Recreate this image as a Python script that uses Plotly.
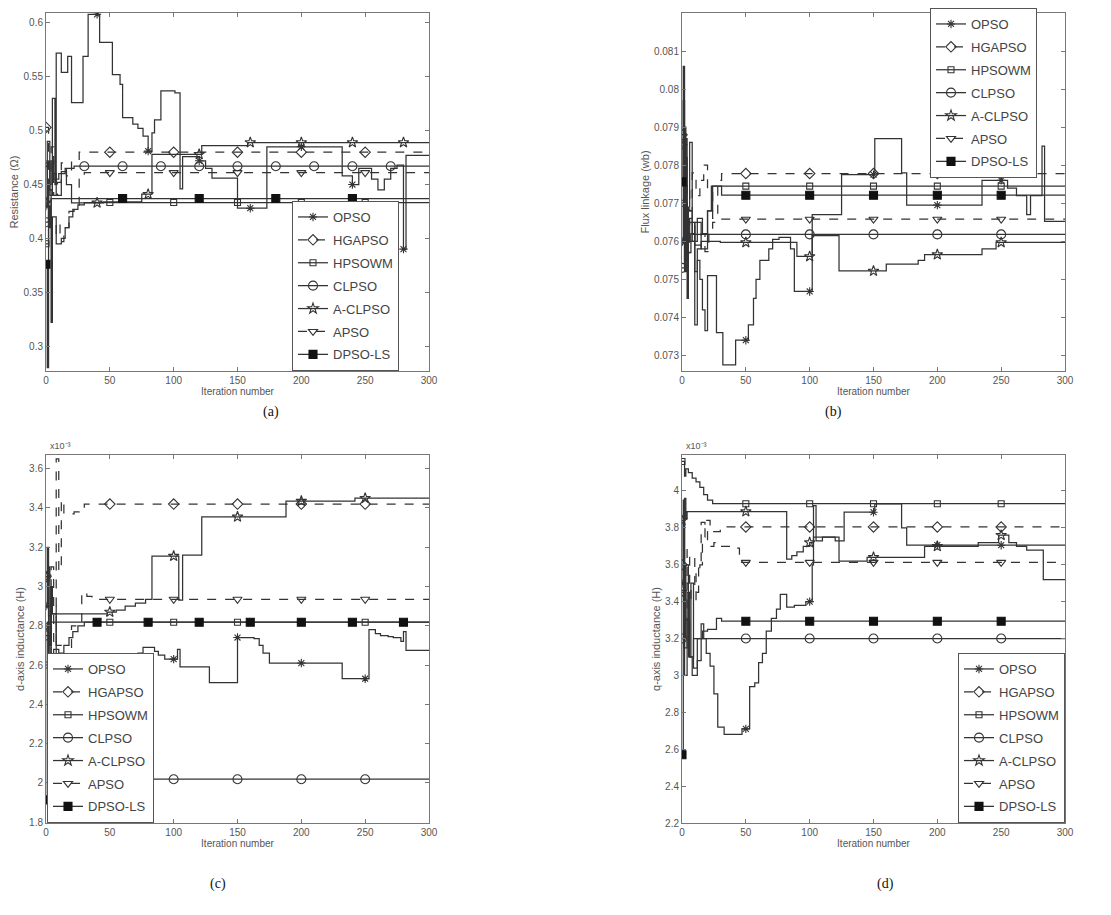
import plotly.graph_objects as go

# ---------------- data ----------------
ALGOS = ["OPSO", "HGAPSO", "HPSOWM", "CLPSO", "A-CLPSO", "APSO", "DPSO-LS"]
X_TICKS = [0, 50, 100, 150, 200, 250, 300]

# ---- panel (a): Resistance (ohm) ----
A_OPSO_IT = [0, 1, 3, 5, 7, 8, 12, 17, 20, 29, 33, 42, 52, 58, 60, 68, 72, 76, 80, 83, 85, 90, 101, 105, 107, 120, 125, 130, 150, 173, 232, 240, 245, 255, 260, 265, 270, 275, 280, 282, 300]
A_OPSO_V = [0.430, 0.470, 0.440, 0.530, 0.450, 0.572, 0.554, 0.569, 0.526, 0.569, 0.608, 0.582, 0.552, 0.543, 0.512, 0.506, 0.502, 0.495, 0.481, 0.498, 0.510, 0.537, 0.535, 0.446, 0.476, 0.472, 0.465, 0.456, 0.428, 0.485, 0.458, 0.450, 0.465, 0.455, 0.445, 0.455, 0.465, 0.468, 0.390, 0.477, 0.477]
A_HGAPSO_IT = [0, 2, 4, 6, 9, 12, 16, 20, 26, 300]
A_HGAPSO_V = [0.503, 0.460, 0.485, 0.440, 0.452, 0.470, 0.458, 0.472, 0.480, 0.480]
A_HPSOWM_IT = [0, 2, 4, 5, 8, 12, 15, 18, 21, 25, 30, 300]
A_HPSOWM_V = [0.395, 0.445, 0.322, 0.420, 0.395, 0.400, 0.410, 0.420, 0.427, 0.431, 0.4333, 0.4333]
A_CLPSO_IT = [0, 2, 4, 6, 10, 15, 22, 300]
A_CLPSO_V = [0.415, 0.450, 0.472, 0.455, 0.460, 0.465, 0.467, 0.467]
A_ACLPSO_IT = [0, 1, 3, 5, 8, 12, 16, 20, 45, 75, 83, 122, 158, 300]
A_ACLPSO_V = [0.433, 0.490, 0.445, 0.460, 0.440, 0.462, 0.450, 0.433, 0.434, 0.441, 0.478, 0.486, 0.489, 0.489]
A_APSO_IT = [0, 2, 5, 8, 11, 14, 18, 22, 26, 30, 300]
A_APSO_V = [0.470, 0.412, 0.400, 0.415, 0.397, 0.410, 0.425, 0.430, 0.455, 0.461, 0.461]
A_DPSO_IT = [0, 1, 2, 3, 4, 300]
A_DPSO_V = [0.376, 0.280, 0.430, 0.410, 0.437, 0.437]
A_YTICKS = [0.3, 0.35, 0.4, 0.45, 0.5, 0.55, 0.6]
A_YLABELS = ["0.3", "0.35", "0.4", "0.45", "0.5", "0.55", "0.6"]

# ---- panel (b): Flux linkage (wb) ----
B_OPSO_IT = [0, 1, 2, 3, 4, 5, 6, 8, 10, 12, 14, 16, 18, 20, 27, 32, 42, 52, 56, 58, 61, 68, 71, 76, 85, 88, 102, 125, 151, 172, 176, 235, 255, 262, 270, 273, 282, 284, 300]
B_OPSO_V = [0.0760, 0.0806, 0.0752, 0.0782, 0.0745, 0.0769, 0.0786, 0.0765, 0.0738, 0.0755, 0.0750, 0.0742, 0.07365, 0.0751, 0.0736, 0.07275, 0.0734, 0.0738, 0.0745, 0.0750, 0.0755, 0.0758, 0.07605, 0.0761, 0.0758, 0.07468, 0.0767, 0.07775, 0.0787, 0.0778, 0.07695, 0.0776, 0.0774, 0.0772, 0.0767, 0.0772, 0.0785, 0.07652, 0.07652]
B_HGAPSO_IT = [0, 2, 4, 6, 8, 11, 14, 17, 20, 24, 28, 31, 300]
B_HGAPSO_V = [0.0788, 0.0762, 0.0775, 0.0768, 0.0778, 0.0772, 0.0776, 0.0780, 0.0773, 0.0766, 0.0776, 0.07778, 0.07778]
B_HPSOWM_IT = [0, 3, 5, 8, 12, 16, 20, 23, 300]
B_HPSOWM_V = [0.0770, 0.0758, 0.0768, 0.0760, 0.0766, 0.0762, 0.0768, 0.07745, 0.07745]
B_CLPSO_IT = [0, 2, 4, 6, 8, 300]
B_CLPSO_V = [0.0753, 0.0770, 0.0760, 0.0765, 0.07618, 0.07618]
B_ACLPSO_IT = [0, 1, 2, 3, 5, 7, 10, 12, 15, 30, 90, 102, 123, 160, 185, 190, 235, 246, 300]
B_ACLPSO_V = [0.0785, 0.0775, 0.0790, 0.0768, 0.0757, 0.0762, 0.0752, 0.0758, 0.0760, 0.07597, 0.0756, 0.07615, 0.07522, 0.0754, 0.0755, 0.07565, 0.0758, 0.07597, 0.07597]
B_APSO_IT = [0, 2, 4, 6, 10, 15, 18, 21, 24, 28, 300]
B_APSO_V = [0.0760, 0.0768, 0.0757, 0.0766, 0.0759, 0.0762, 0.07573, 0.0762, 0.0765, 0.07658, 0.07658]
B_DPSO_IT = [0, 1, 2, 3, 4, 6, 10, 15, 20, 24, 31, 300]
B_DPSO_V = [0.07756, 0.0797, 0.0755, 0.0787, 0.0762, 0.0760, 0.0765, 0.0758, 0.0768, 0.07745, 0.07721, 0.07721]
B_YTICKS = [0.073, 0.074, 0.075, 0.076, 0.077, 0.078, 0.079, 0.080, 0.081, 0.082]
B_YLABELS = ["0.073", "0.074", "0.075", "0.076", "0.077", "0.078", "0.079", "0.08", "0.081", "0.082"]

# ---- panel (c): d-axis inductance (x1e-3 H) ----
C_OPSO_IT = [0, 1, 2, 4, 8, 20, 40, 60, 72, 76, 85, 88, 93, 103, 105, 128, 150, 163, 167, 170, 175, 232, 253, 258, 262, 268, 272, 278, 280, 282, 300]
C_OPSO_V = [2.90, 3.20, 2.70, 2.86, 2.65, 2.55, 2.60, 2.64, 2.66, 2.69, 2.67, 2.65, 2.63, 2.68, 2.59, 2.51, 2.74, 2.735, 2.70, 2.66, 2.61, 2.53, 2.78, 2.76, 2.75, 2.745, 2.74, 2.72, 2.77, 2.675, 2.675]
C_HGAPSO_IT = [0, 2, 4, 6, 8, 10, 12, 14, 22, 26, 30, 300]
C_HGAPSO_V = [3.05, 2.85, 3.10, 2.70, 3.65, 3.08, 3.44, 3.37, 3.38, 3.39, 3.42, 3.42]
C_HPSOWM_IT = [0, 2, 4, 6, 10, 14, 18, 21, 25, 30, 300]
C_HPSOWM_V = [2.60, 2.80, 2.55, 2.68, 2.66, 2.70, 2.74, 2.77, 2.80, 2.818, 2.818]
C_CLPSO_IT = [0, 3, 6, 10, 15, 22, 300]
C_CLPSO_V = [2.75, 2.50, 2.20, 2.10, 2.05, 2.018, 2.018]
C_ACLPSO_IT = [0, 2, 3, 4, 5, 48, 55, 62, 70, 78, 83, 104, 107, 122, 188, 242, 300]
C_ACLPSO_V = [3.05, 3.10, 2.70, 3.00, 2.86, 2.87, 2.88, 2.90, 2.915, 2.935, 3.155, 2.93, 3.16, 3.355, 3.435, 3.45, 3.45]
C_APSO_IT = [0, 2, 4, 8, 12, 20, 28, 32, 36, 300]
C_APSO_V = [2.80, 2.60, 2.90, 2.70, 2.65, 2.80, 2.97, 2.95, 2.935, 2.935]
C_DPSO_IT = [0, 1, 300]
C_DPSO_V = [1.913, 2.818, 2.818]
C_YTICKS = [1.8, 2.0, 2.2, 2.4, 2.6, 2.8, 3.0, 3.2, 3.4, 3.6]
C_YLABELS = ["1.8", "2", "2.2", "2.4", "2.6", "2.8", "3", "3.2", "3.4", "3.6"]

# ---- panel (d): q-axis inductance (x1e-3 H) ----
D_OPSO_IT = [0, 1, 2, 3, 5, 7, 9, 12, 15, 17, 19, 22, 25, 28, 33, 47, 53, 57, 60, 63, 66, 70, 74, 77, 82, 88, 97, 102, 103, 105, 110, 120, 127, 151, 172, 176, 300]
D_OPSO_V = [3.50, 3.95, 3.20, 3.60, 3.10, 3.50, 3.04, 3.08, 3.28, 3.20, 3.12, 3.05, 2.90, 2.72, 2.68, 2.71, 2.94, 2.96, 3.07, 3.12, 3.24, 3.31, 3.36, 3.44, 3.37, 3.38, 3.40, 3.60, 3.92, 3.73, 3.75, 3.73, 3.885, 3.93, 3.80, 3.706, 3.706]
D_HGAPSO_IT = [0, 2, 4, 7, 11, 14, 16, 18, 22, 30, 34, 300]
D_HGAPSO_V = [3.60, 3.30, 3.50, 3.40, 3.55, 3.60, 3.75, 3.84, 3.78, 3.79, 3.805, 3.805]
D_HPSOWM_IT = [0, 2, 3, 5, 8, 11, 14, 17, 20, 24, 300]
D_HPSOWM_V = [4.16, 4.08, 4.12, 4.10, 4.07, 4.05, 4.02, 3.98, 3.95, 3.931, 3.931]
D_CLPSO_IT = [0, 2, 4, 6, 9, 300]
D_CLPSO_V = [3.20, 3.00, 3.30, 3.10, 3.20, 3.20]
D_ACLPSO_IT = [0, 1, 2, 3, 4, 82, 86, 90, 95, 100, 103, 123, 145, 190, 232, 248, 256, 262, 270, 283, 300]
D_ACLPSO_V = [3.84, 3.50, 3.96, 3.85, 3.888, 3.63, 3.65, 3.67, 3.70, 3.72, 3.75, 3.62, 3.64, 3.70, 3.72, 3.76, 3.72, 3.70, 3.68, 3.52, 3.52]
D_APSO_IT = [0, 2, 4, 6, 10, 13, 15, 18, 20, 25, 30, 40, 45, 300]
D_APSO_V = [3.45, 3.70, 3.50, 3.65, 3.45, 3.60, 3.83, 3.78, 3.70, 3.72, 3.70, 3.69, 3.613, 3.613]
D_DPSO_IT = [0, 1, 2, 4, 6, 8, 12, 16, 20, 27, 31, 300]
D_DPSO_V = [2.57, 3.50, 3.15, 3.45, 3.10, 3.00, 3.20, 3.24, 3.25, 3.31, 3.294, 3.294]
D_YTICKS = [2.2, 2.4, 2.6, 2.8, 3.0, 3.2, 3.4, 3.6, 3.8, 4.0]
D_YLABELS = ["2.2", "2.4", "2.6", "2.8", "3", "3.2", "3.4", "3.6", "3.8", "4"]

# iterations at which markers are drawn
MARK_50 = [0, 50, 100, 150, 200, 250]
MARK_40 = [0, 40, 80, 120, 160, 200, 240, 280]
MARK_30 = [0, 30, 60, 90, 120, 150, 180, 210, 240, 270]
MARK_60 = [0, 60, 120, 180, 240]

# ---------------- styles ----------------
W, H = 1111, 915
LINE_C = "#333333"
LW = 1.25
FONT = "Liberation Sans Narrow, Arial Narrow, Liberation Sans, Arial, sans-serif"
TXT_C = "#555555"

STYLE = {
    "OPSO": dict(symbol="asterisk-open", dash="solid", size=7),
    "HGAPSO": dict(symbol="diamond-open", dash="dash", size=8),
    "HPSOWM": dict(symbol="square-open", dash="solid", size=6),
    "CLPSO": dict(symbol="circle-open", dash="solid", size=9),
    "A-CLPSO": dict(symbol="star-open", dash="solid", size=8),
    "APSO": dict(symbol="triangle-down-open", dash="dash", size=8),
    "DPSO-LS": dict(symbol="square", dash="solid", size=8),
}


def px_x(p):
    return p / W


def px_y(p):
    return 1 - p / H


def step_val(its, vals, x):
    v = vals[0]
    for t, val in zip(its, vals):
        if t <= x:
            v = val
        else:
            break
    return v


PANELS = [
    dict(ax="", legend="legend", series=[
        ("OPSO", A_OPSO_IT, A_OPSO_V, MARK_40), ("HGAPSO", A_HGAPSO_IT, A_HGAPSO_V, MARK_50),
        ("HPSOWM", A_HPSOWM_IT, A_HPSOWM_V, MARK_50), ("CLPSO", A_CLPSO_IT, A_CLPSO_V, MARK_30),
        ("A-CLPSO", A_ACLPSO_IT, A_ACLPSO_V, MARK_40), ("APSO", A_APSO_IT, A_APSO_V, MARK_50),
        ("DPSO-LS", A_DPSO_IT, A_DPSO_V, MARK_60)]),
    dict(ax="2", legend="legend2", series=[
        ("OPSO", B_OPSO_IT, B_OPSO_V, MARK_50), ("HGAPSO", B_HGAPSO_IT, B_HGAPSO_V, MARK_50),
        ("HPSOWM", B_HPSOWM_IT, B_HPSOWM_V, MARK_50), ("CLPSO", B_CLPSO_IT, B_CLPSO_V, MARK_50),
        ("A-CLPSO", B_ACLPSO_IT, B_ACLPSO_V, MARK_50), ("APSO", B_APSO_IT, B_APSO_V, MARK_50),
        ("DPSO-LS", B_DPSO_IT, B_DPSO_V, MARK_50)]),
    dict(ax="3", legend="legend3", series=[
        ("OPSO", C_OPSO_IT, C_OPSO_V, MARK_50), ("HGAPSO", C_HGAPSO_IT, C_HGAPSO_V, MARK_50),
        ("HPSOWM", C_HPSOWM_IT, C_HPSOWM_V, MARK_50), ("CLPSO", C_CLPSO_IT, C_CLPSO_V, MARK_50),
        ("A-CLPSO", C_ACLPSO_IT, C_ACLPSO_V, MARK_50), ("APSO", C_APSO_IT, C_APSO_V, MARK_50),
        ("DPSO-LS", C_DPSO_IT, C_DPSO_V, MARK_40)]),
    dict(ax="4", legend="legend4", series=[
        ("OPSO", D_OPSO_IT, D_OPSO_V, MARK_50), ("HGAPSO", D_HGAPSO_IT, D_HGAPSO_V, MARK_50),
        ("HPSOWM", D_HPSOWM_IT, D_HPSOWM_V, MARK_50), ("CLPSO", D_CLPSO_IT, D_CLPSO_V, MARK_50),
        ("A-CLPSO", D_ACLPSO_IT, D_ACLPSO_V, MARK_50), ("APSO", D_APSO_IT, D_APSO_V, MARK_50),
        ("DPSO-LS", D_DPSO_IT, D_DPSO_V, MARK_50)]),
]

fig = go.Figure()

for p in PANELS:
    xa, ya = "x" + p["ax"], "y" + p["ax"]
    for name, its, vals, marks in p["series"]:
        st = STYLE[name]
        grp = p["legend"] + "-" + name
        filled = name == "DPSO-LS"
        mk = dict(symbol=st["symbol"], size=st["size"],
                  color="#111111" if filled else LINE_C,
                  line=dict(color="#111111" if filled else LINE_C, width=1.1))
        fig.add_trace(go.Scatter(
            x=its, y=vals, mode="lines", line_shape="hv",
            line=dict(color=LINE_C, width=LW, dash=st["dash"]),
            xaxis=xa, yaxis=ya, showlegend=False, hoverinfo="skip",
            legendgroup=grp, legend=p["legend"]))
        fig.add_trace(go.Scatter(
            x=marks, y=[step_val(its, vals, m) for m in marks], mode="markers",
            marker=mk, xaxis=xa, yaxis=ya, showlegend=False, hoverinfo="skip",
            legendgroup=grp, legend=p["legend"]))
        # legend sample (line + marker)
        fig.add_trace(go.Scatter(
            x=[None], y=[None], mode="lines+markers", name=name,
            line=dict(color=LINE_C, width=LW, dash=st["dash"]), marker=mk,
            xaxis=xa, yaxis=ya, legend=p["legend"], legendgroup=grp))

# axes geometry (pixels)
TOP_ROW = (5, 363)
BOT_ROW = (447, 815)
LEFT_COL = (38, 421)
RIGHT_COL = (674, 1057)


def xaxis_cfg(col, anchor):
    return dict(domain=[px_x(col[0]), px_x(col[1])], anchor=anchor, range=[0, 300],
                tickvals=X_TICKS, ticks="inside", ticklen=4, tickcolor="#777",
                showline=True, linecolor="#777", linewidth=1, mirror="ticks",
                showgrid=False, zeroline=False, automargin=False,
                tickfont=dict(family=FONT, size=10, color=TXT_C),
                title=dict(text="Iteration number", standoff=0,
                           font=dict(family=FONT, size=10, color=TXT_C)))


def yaxis_cfg(row, anchor, rng, tv, tt, title):
    return dict(domain=[px_y(row[1]), px_y(row[0])], anchor=anchor, range=rng,
                tickvals=tv, ticktext=tt, ticks="inside", ticklen=4, tickcolor="#777",
                showline=True, linecolor="#777", linewidth=1, mirror="ticks",
                showgrid=False, zeroline=False, automargin=False,
                tickfont=dict(family=FONT, size=10, color=TXT_C),
                title=dict(text=title, standoff=2,
                           font=dict(family=FONT, size=11, color=TXT_C)))


def legend_cfg(x0, y0, xanchor, yanchor):
    return dict(x=px_x(x0), y=px_y(y0), xanchor=xanchor, yanchor=yanchor,
                bgcolor="white", bordercolor="#555", borderwidth=1,
                font=dict(family=FONT, size=13, color="#444"),
                itemwidth=30, tracegroupgap=3, traceorder="grouped")


fig.update_layout(
    width=W, height=H, template="none",
    paper_bgcolor="white", plot_bgcolor="white",
    margin=dict(l=0, r=0, t=0, b=0),
    xaxis=xaxis_cfg(LEFT_COL, "y"),
    yaxis=yaxis_cfg(TOP_ROW, "x", [0.2769, 0.6092], A_YTICKS, A_YLABELS, "Resistance (Ω)"),
    xaxis2=xaxis_cfg(RIGHT_COL, "y2"),
    yaxis2=yaxis_cfg(TOP_ROW, "x2", [0.07259, 0.082], B_YTICKS, B_YLABELS, "Flux linkage (wb)"),
    xaxis3=xaxis_cfg(LEFT_COL, "y3"),
    yaxis3=yaxis_cfg(BOT_ROW, "x3", [1.795, 3.67], C_YTICKS, C_YLABELS, "d-axis inductance (H)"),
    xaxis4=xaxis_cfg(RIGHT_COL, "y4"),
    yaxis4=yaxis_cfg(BOT_ROW, "x4", [2.2, 4.195], D_YTICKS, D_YLABELS, "q-axis inductance (H)"),
    legend=legend_cfg(LEFT_COL[1] - 30, TOP_ROW[1], "right", "bottom"),
    legend2=legend_cfg(RIGHT_COL[1] - 28, 0, "right", "top"),
    legend3=legend_cfg(LEFT_COL[0] + 1, BOT_ROW[1], "left", "bottom"),
    legend4=legend_cfg(RIGHT_COL[1], BOT_ROW[1], "right", "bottom"),
)

CAPTIONS = [("(a)", 253, 404), ("(b)", 836, 404), ("(c)", 200, 886), ("(d)", 888, 886)]
for txt, cx, cy in CAPTIONS:
    fig.add_annotation(text=txt, x=px_x(cx), y=px_y(cy), xref="paper", yref="paper",
                       showarrow=False, font=dict(family="Liberation Serif, Times New Roman, serif",
                                                  size=14, color="#111"))

for cx in (LEFT_COL[0], RIGHT_COL[0]):
    fig.add_annotation(text="x10⁻³", x=px_x(cx + 2), y=px_y(BOT_ROW[0] - 2),
                       xref="paper", yref="paper", xanchor="left", yanchor="bottom",
                       showarrow=False, font=dict(family=FONT, size=9, color=TXT_C))

fig.write_html("out.html")
